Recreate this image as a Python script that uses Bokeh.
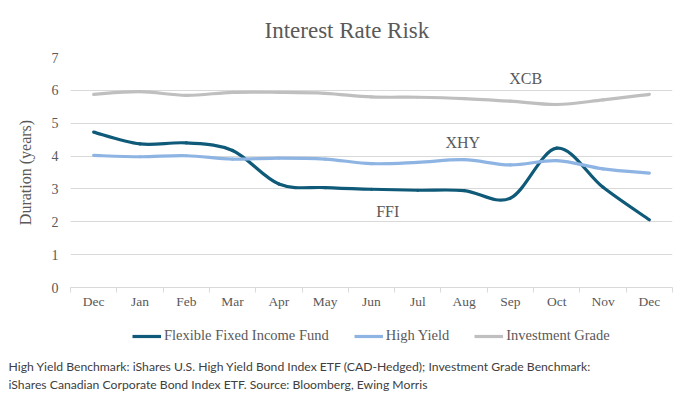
from bokeh.plotting import figure
from bokeh.layouts import column
from bokeh.models import (Range1d, FixedTicker, Label, Legend, LegendItem, Title)
from bokeh.embed import file_html
from bokeh.resources import INLINE

months = ["Dec", "Jan", "Feb", "Mar", "Apr", "May", "Jun", "Jul", "Aug", "Sep", "Oct", "Nov", "Dec"]
ffi = [4.73, 4.37, 4.40, 4.17, 3.15, 3.04, 2.99, 2.96, 2.95, 2.72, 4.24, 3.05, 2.06]
high_yield = [4.02, 3.98, 4.01, 3.91, 3.94, 3.91, 3.77, 3.81, 3.89, 3.73, 3.86, 3.61, 3.48]
inv_grade = [5.88, 5.96, 5.85, 5.94, 5.94, 5.91, 5.80, 5.79, 5.75, 5.67, 5.57, 5.71, 5.88]
y_ticks = [0, 1, 2, 3, 4, 5, 6, 7]

series_names = ["Flexible Fixed Income Fund", "High Yield", "Investment Grade"]
series_tags = ["FFI", "XHY", "XCB"]
colors = ["#0f5a78", "#8db4e2", "#bfbfbf"]
tag_pos = [(6.85, 2.31), (8.47, 4.41), (9.83, 6.36)]

title_text = "Interest Rate Risk"
footnote_lines = [
    "High Yield Benchmark: iShares U.S. High Yield Bond Index ETF (CAD-Hedged); Investment Grade Benchmark:",
    "iShares Canadian Corporate Bond Index ETF.  Source: Bloomberg, Ewing Morris",
]

SERIF = "Liberation Serif"
GRAY = "#595959"
GRID = "#d9d9d9"

xs = [i + 0.5 for i in range(len(months))]

# ---------------- main chart ----------------
p = figure(width=691, height=320, output_backend="svg", toolbar_location=None,
           x_range=Range1d(0, len(months)), y_range=Range1d(0, 7),
           min_border_left=70, min_border_right=19, min_border_top=57, min_border_bottom=33)
p.outline_line_color = None
p.background_fill_color = "white"
p.border_fill_color = "white"

p.xgrid.grid_line_color = None
p.ygrid.grid_line_color = GRID
p.ygrid.grid_line_width = 1
p.ygrid.ticker = FixedTicker(ticks=y_ticks)

p.yaxis.ticker = FixedTicker(ticks=y_ticks)
p.yaxis.axis_line_color = None
p.yaxis.major_tick_line_color = None
p.yaxis.minor_tick_line_color = None
p.yaxis.major_tick_out = 0
p.yaxis.major_tick_in = 0
p.yaxis.minor_tick_out = 0
p.yaxis.minor_tick_in = 0
p.yaxis.major_label_standoff = 12
p.yaxis.major_label_text_font = SERIF
p.yaxis.major_label_text_font_size = "14px"
p.yaxis.major_label_text_color = GRAY
p.yaxis.axis_label = "Duration (years)"
p.yaxis.axis_label_text_font = SERIF
p.yaxis.axis_label_text_font_size = "16px"
p.yaxis.axis_label_text_font_style = "normal"
p.yaxis.axis_label_text_color = GRAY
p.yaxis.axis_label_standoff = 15

p.xaxis.ticker = FixedTicker(ticks=xs, minor_ticks=list(range(len(months) + 1)))
p.xaxis.major_label_overrides = {x: m for x, m in zip(xs, months)}
p.xaxis.axis_line_color = GRID
p.xaxis.major_tick_line_color = None
p.xaxis.major_tick_out = 0
p.xaxis.major_tick_in = 0
p.xaxis.minor_tick_line_color = GRID
p.xaxis.minor_tick_out = 5
p.xaxis.minor_tick_in = 0
p.xaxis.major_label_standoff = 1
p.xaxis.major_label_text_font = SERIF
p.xaxis.major_label_text_font_size = "13.5px"
p.xaxis.major_label_text_color = GRAY


def bezier_parts(x, y):
    n = len(x)
    x0, y0, x1, y1, cx0, cy0, cx1, cy1 = [], [], [], [], [], [], [], []
    for i in range(n - 1):
        xm, ym = (x[i - 1], y[i - 1]) if i > 0 else (x[i], y[i])
        xp, yp = (x[i + 2], y[i + 2]) if i + 2 < n else (x[i + 1], y[i + 1])
        x0.append(x[i]); y0.append(y[i]); x1.append(x[i + 1]); y1.append(y[i + 1])
        cx0.append(x[i] + (x[i + 1] - xm) / 6.0)
        cy0.append(y[i] + (y[i + 1] - ym) / 6.0)
        cx1.append(x[i + 1] - (xp - x[i]) / 6.0)
        cy1.append(y[i + 1] - (yp - y[i]) / 6.0)
    return dict(x0=x0, y0=y0, x1=x1, y1=y1, cx0=cx0, cy0=cy0, cx1=cx1, cy1=cy1)


for ys, col in zip([ffi, high_yield, inv_grade], colors):
    p.bezier(source=bezier_parts(xs, ys), x0="x0", y0="y0", x1="x1", y1="y1",
             cx0="cx0", cy0="cy0", cx1="cx1", cy1="cy1",
             line_color=col, line_width=3.2, line_cap="round")

for tag, (tx, ty) in zip(series_tags, tag_pos):
    p.add_layout(Label(x=tx, y=ty, text=tag, text_font=SERIF, text_font_size="16px",
                       text_color=GRAY, text_align="center", text_baseline="middle"))

p.add_layout(Title(text=title_text, align="left", offset=194, standoff=30,
                   text_font=SERIF, text_font_size="23px", text_font_style="normal",
                   text_color=GRAY), "above")

# ---------------- legend + footnote strip ----------------
p2 = figure(width=691, height=77, output_backend="svg", toolbar_location=None,
            x_range=Range1d(0, 602), y_range=Range1d(0, 32),
            x_axis_location=None, y_axis_location=None,
            min_border_left=70, min_border_right=19, min_border_top=0, min_border_bottom=45)
p2.grid.visible = False
p2.outline_line_color = None
p2.background_fill_color = "white"
p2.border_fill_color = "white"

items = []
for name, col in zip(series_names, colors):
    r = p2.line(x=[float("nan")], y=[float("nan")], line_color=col, line_width=3.2)
    items.append(LegendItem(label=name, renderers=[r]))

legend = Legend(items=items, orientation="horizontal", location=(62, 8),
                glyph_width=29, glyph_height=16, label_standoff=3, spacing=25,
                padding=0, margin=0, border_line_color=None, background_fill_alpha=0,
                label_text_font=SERIF, label_text_font_size="14.5px", label_text_color=GRAY,
                label_height=16)
p2.add_layout(legend, "center")

p2.add_layout(Title(text="\n".join(footnote_lines), align="left", offset=-62, standoff=8,
                    text_font="Lato", text_font_size="12.2px", text_font_style="normal",
                    text_color="#404040", text_line_height=1.2), "below")

layout = column(p, p2, spacing=0)
open("out.html", "w").write(file_html(layout, INLINE))
